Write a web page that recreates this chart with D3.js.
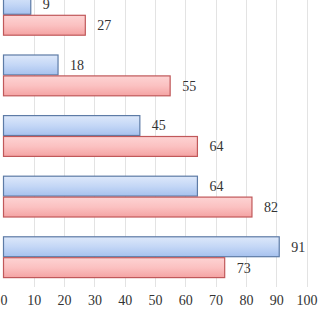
<!DOCTYPE html>
<html>
<head>
<meta charset="utf-8">
<script src="https://cdn.jsdelivr.net/npm/d3@7"></script>
<style>
  body { margin: 0; background: #fff; }
  svg { display: block; }
</style>
</head>
<body>
<script>
// categories (their labels are cut off in the reference)
let categories = ["1", "2", "3", "4", "5"];
// series values
let seriesBlue = [9, 18, 45, 64, 91];
let seriesRed = [27, 55, 64, 82, 73];
// tick labels
let ticks = [0, 10, 20, 30, 40, 50, 60, 70, 80, 90, 100];

let width = 322;
let height = 311;

let dataset = categories.map(function (c, i) {
  return { cat: c, blue: seriesBlue[i], red: seriesRed[i] };
});

let svg = d3.select("body").append("svg")
  .attr("width", width).attr("height", height);

// gradients
let defs = svg.append("defs");
function grad(id, stops) {
  let g = defs.append("linearGradient").attr("id", id)
    .attr("x1", 0).attr("y1", 0).attr("x2", 0).attr("y2", 1);
  stops.forEach(function (s) {
    g.append("stop").attr("offset", s[0]).attr("stop-color", s[1]);
  });
}
grad("gBlue", [[0, "#dde8fa"], [0.5, "#c4d7f6"], [1, "#a6c1ee"]]);
grad("gRed", [[0, "#fdd3d3"], [0.5, "#fbc1c1"], [1, "#f4a3a3"]]);

// x scale
let xScale = d3.scaleLinear().domain([0, 100]).range([3.5, 306.5]);

// y scale (groups)
let yScale = d3.scaleBand()
  .domain(categories)
  .range([-15.5, 287.5])
  .paddingInner(0.31)
  .paddingOuter(0.155);

let ySub = d3.scaleBand()
  .domain(["blue", "red"])
  .range([0, yScale.bandwidth()]);

// gridlines
svg.append("g").selectAll("line")
  .data(ticks.slice(1))
  .enter().append("line")
  .attr("x1", function (d) { return Math.round(xScale(d)) + 0.5; })
  .attr("x2", function (d) { return Math.round(xScale(d)) + 0.5; })
  .attr("y1", 0)
  .attr("y2", 287)
  .attr("stroke", "#e3e3e3")
  .attr("stroke-width", 1);

let styles = {
  blue: { fill: "url(#gBlue)", stroke: "#5d7ba6" },
  red: { fill: "url(#gRed)", stroke: "#c0585a" }
};

let groups = svg.selectAll("g.grp")
  .data(dataset)
  .enter().append("g")
  .attr("class", "grp")
  .attr("transform", function (d) { return "translate(0," + yScale(d.cat) + ")"; });

groups.selectAll("rect")
  .data(function (d) { return ["blue", "red"].map(function (k) { return { key: k, value: d[k] }; }); })
  .enter().append("rect")
  .attr("x", xScale(0))
  .attr("y", function (d) { return ySub(d.key) + 0.5; })
  .attr("width", function (d) { return xScale(d.value) - xScale(0); })
  .attr("height", ySub.bandwidth() - 1)
  .attr("fill", function (d) { return styles[d.key].fill; })
  .attr("stroke", function (d) { return styles[d.key].stroke; })
  .attr("stroke-width", 1.2);

// value labels
groups.selectAll("text")
  .data(function (d) { return ["blue", "red"].map(function (k) { return { key: k, value: d[k] }; }); })
  .enter().append("text")
  .attr("x", function (d) { return xScale(d.value) + 12; })
  .attr("y", function (d) { return ySub(d.key) + ySub.bandwidth() / 2; })
  .attr("dy", "0.35em")
  .attr("font-family", "Liberation Serif, Times New Roman, serif")
  .attr("font-size", 14)
  .attr("fill", "#333")
  .text(function (d) { return d.value; });

// x axis labels
let xAxis = d3.axisBottom(xScale).tickValues(ticks).tickSize(0).tickPadding(0);
let axisG = svg.append("g")
  .attr("transform", "translate(0,295)")
  .call(xAxis);
axisG.select(".domain").remove();
axisG.selectAll("text")
  .attr("font-family", "Liberation Serif, Times New Roman, serif")
  .attr("font-size", 14)
  .attr("fill", "#333");
</script>
</body>
</html>
